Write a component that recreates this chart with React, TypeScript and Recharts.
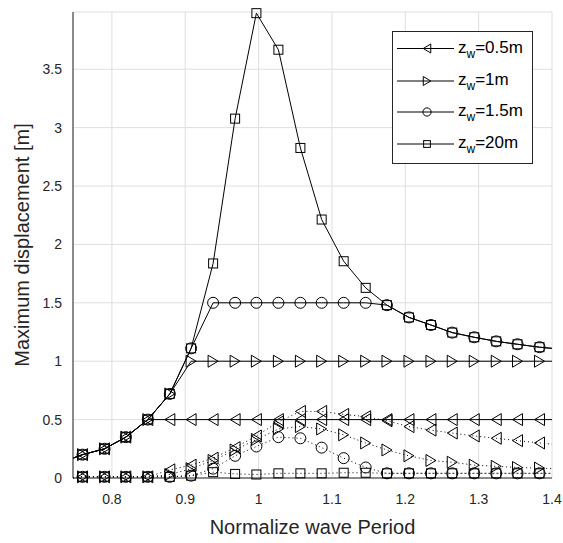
import { LineChart, Line, XAxis, YAxis, CartesianGrid, Legend } from "recharts";

// normalized period; first and last entries are the line ends (no marker)
const period = [
  0.747, 0.76, 0.79, 0.819, 0.849, 0.879, 0.908, 0.938, 0.968, 0.997, 1.027, 1.057,
  1.086, 1.116, 1.146, 1.175, 1.205, 1.235, 1.264, 1.294, 1.324, 1.353, 1.383, 1.4,
];

// solid lines
const zw05 = [
  0.17, 0.2, 0.25, 0.35, 0.5, 0.5, 0.5, 0.5, 0.5, 0.5, 0.5, 0.5,
  0.5, 0.5, 0.5, 0.5, 0.5, 0.5, 0.5, 0.5, 0.5, 0.5, 0.5, 0.5,
];
const zw1 = [
  0.17, 0.2, 0.25, 0.35, 0.5, 0.72, 1, 1, 1, 1, 1, 1,
  1, 1, 1, 1, 1, 1, 1, 1, 1, 1, 1, 1,
];
const zw15 = [
  0.17, 0.2, 0.25, 0.35, 0.5, 0.72, 1.11, 1.5, 1.5, 1.5, 1.5, 1.5,
  1.5, 1.5, 1.5, 1.48, 1.375, 1.31, 1.245, 1.205, 1.17, 1.145, 1.12, 1.11,
];
const zw20 = [
  0.17, 0.2, 0.25, 0.35, 0.5, 0.72, 1.11, 1.837, 3.077, 3.98, 3.667, 2.826,
  2.213, 1.856, 1.628, 1.48, 1.375, 1.31, 1.245, 1.205, 1.17, 1.145, 1.12, 1.11,
];

// dotted lines
const dot05 = [
  0, 0.01, 0.01, 0.01, 0.01, 0.07, 0.11, 0.17, 0.26, 0.36, 0.48, 0.57,
  0.57, 0.545, 0.525, 0.49, 0.44, 0.41, 0.385, 0.36, 0.34, 0.32, 0.3, 0.29,
];
const dot1 = [
  0, 0.01, 0.01, 0.01, 0.01, 0.03, 0.08, 0.15, 0.24, 0.33, 0.42, 0.44,
  0.42, 0.37, 0.3, 0.24, 0.19, 0.15, 0.135, 0.11, 0.1, 0.09, 0.085, 0.08,
];
const dot15 = [
  0, 0.01, 0.01, 0.01, 0.01, 0.01, 0.02, 0.08, 0.19, 0.27, 0.35, 0.34,
  0.26, 0.17, 0.09, 0.04, 0.04, 0.04, 0.04, 0.04, 0.04, 0.04, 0.04, 0.04,
];
const dot20 = [
  0, 0.01, 0.01, 0.01, 0.01, 0.01, 0.02, 0.05, 0.035, 0.03, 0.04, 0.04,
  0.04, 0.045, 0.045, 0.04, 0.04, 0.04, 0.04, 0.04, 0.04, 0.04, 0.04, 0.04,
];

const xTicks = [0.8, 0.9, 1, 1.1, 1.2, 1.3, 1.4];
const yTicks = [0, 0.5, 1, 1.5, 2, 2.5, 3, 3.5];
const legendNames = ["0.5m", "1m", "1.5m", "20m"];

type Shape = "left" | "right" | "circle" | "square";

const series: { key: string; shape: Shape; dotted: boolean; values: number[] }[] = [
  { key: "zw05", shape: "left", dotted: false, values: zw05 },
  { key: "zw1", shape: "right", dotted: false, values: zw1 },
  { key: "zw15", shape: "circle", dotted: false, values: zw15 },
  { key: "zw20", shape: "square", dotted: false, values: zw20 },
  { key: "dot05", shape: "left", dotted: true, values: dot05 },
  { key: "dot1", shape: "right", dotted: true, values: dot1 },
  { key: "dot15", shape: "circle", dotted: true, values: dot15 },
  { key: "dot20", shape: "square", dotted: true, values: dot20 },
];

const data = period.map((x, i) => {
  const row: Record<string, number> = { x };
  series.forEach((s) => (row[s.key] = s.values[i]));
  return row;
});

const INK = "#262626";

function Marker({ shape, cx, cy, s = 1 }: { shape: Shape; cx: number; cy: number; s?: number }) {
  const st = { fill: "none", stroke: "#000", strokeWidth: 1 };
  if (shape === "circle") return <circle cx={cx} cy={cy} r={5.5 * s} {...st} />;
  if (shape === "square") {
    const h = 4.5 * s;
    return <rect x={cx - h} y={cy - h} width={2 * h} height={2 * h} {...st} />;
  }
  const w = 5 * s;
  const h = 6 * s;
  const pts =
    shape === "left"
      ? `${cx - w},${cy} ${cx + w},${cy - h} ${cx + w},${cy + h}`
      : `${cx + w},${cy} ${cx - w},${cy - h} ${cx - w},${cy + h}`;
  return <polygon points={pts} {...st} />;
}

const makeDot = (name: string, shape: Shape) => (p: any) => {
  const k = `${name}-${p.index}`;
  if (p.index === 0 || p.index === period.length - 1) return <g key={k} />;
  return (
    <g key={k}>
      <Marker shape={shape} cx={p.cx} cy={p.cy} />
    </g>
  );
};

function LegendBox() {
  const rows = [17.5, 50, 81, 113];
  return (
    <svg width={141} height={133} style={{ display: "block" }}>
      <rect x={0.5} y={0.5} width={140} height={132} fill="#fff" stroke={INK} strokeWidth={1} />
      {series.slice(0, 4).map((s, i) => (
        <g key={s.key}>
          <line x1={5} x2={62} y1={rows[i]} y2={rows[i]} stroke="#000" strokeWidth={1} />
          <Marker shape={s.shape} cx={35} cy={rows[i]} s={0.75} />
          <text x={66} y={rows[i] + 4} fontSize={17} fill="#000">
            <tspan>z</tspan>
            <tspan fontSize={12} dy={5}>w</tspan>
            <tspan dy={-5}>={legendNames[i]}</tspan>
          </text>
        </g>
      ))}
    </svg>
  );
}

export default function App() {
  return (
    <div
      style={{
        position: "absolute",
        left: 0,
        top: 0,
        width: 563,
        height: 543,
        background: "#fff",
        fontFamily: "'Liberation Sans', Arial, sans-serif",
      }}
    >
      <LineChart width={563} height={543} data={data} margin={{ top: 12, right: 11, left: 0, bottom: 0 }}>
        <CartesianGrid stroke="#dfdfdf" />
        <XAxis
          dataKey="x"
          type="number"
          domain={[0.747, 1.4]}
          ticks={xTicks}
          height={65}
          tickSize={0}
          tickMargin={16}
          tickLine={false}
          axisLine={{ stroke: INK }}
          tick={{ fill: INK, fontSize: 14 }}
          label={{ value: "Normalize wave Period", position: "insideBottom", offset: 9, fill: INK, fontSize: 20 }}
        />
        <YAxis
          type="number"
          domain={[0, 3.99]}
          ticks={yTicks}
          width={73}
          tickSize={0}
          tickMargin={11}
          tickLine={false}
          axisLine={{ stroke: INK }}
          tick={{ fill: INK, fontSize: 14 }}
          label={{
            value: "Maximum displacement [m]",
            angle: -90,
            position: "insideLeft",
            offset: 22,
            fill: INK,
            fontSize: 20,
            style: { textAnchor: "middle" },
          }}
        />
        {series.map((s) => (
          <Line
            key={s.key}
            dataKey={s.key}
            type="linear"
            stroke="#000"
            strokeWidth={1}
            strokeDasharray={s.dotted ? "1 3" : undefined}
            dot={makeDot(s.key, s.shape)}
            activeDot={false}
            isAnimationActive={false}
          />
        ))}
        <Legend
          layout="horizontal"
          verticalAlign="middle"
          align="center"
          wrapperStyle={{ left: 392, top: 31, width: 141, height: 133 }}
          content={() => <LegendBox />}
        />
      </LineChart>
    </div>
  );
}
